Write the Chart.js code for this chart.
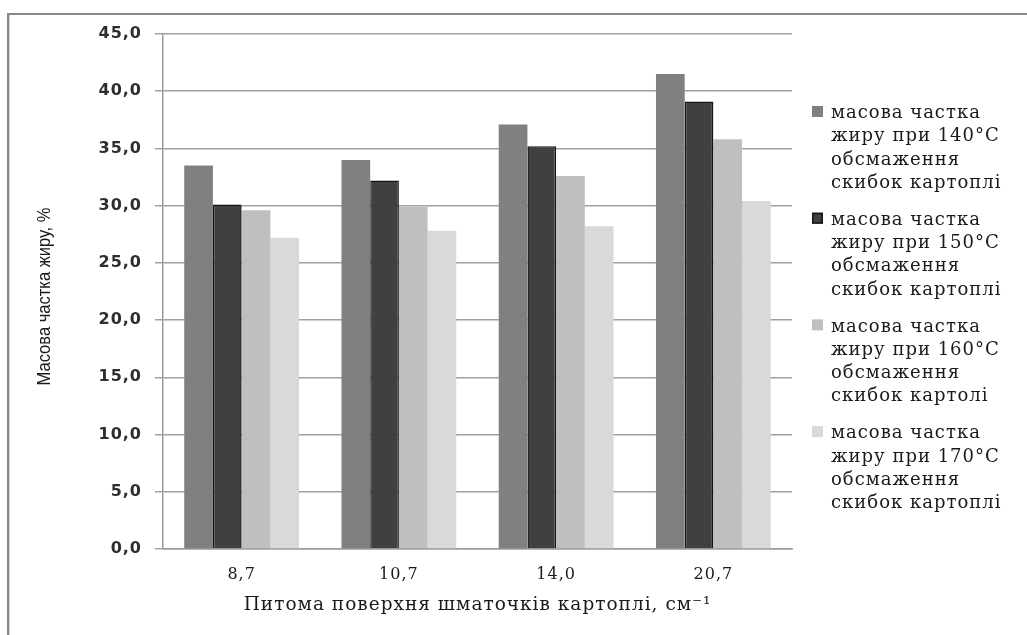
<!DOCTYPE html>
<html>
<head>
<meta charset="utf-8">
<script src="https://cdn.jsdelivr.net/npm/chart.js@4.4.1/dist/chart.umd.min.js"></script>
<style>
  html, body { margin: 0; padding: 0; background: #fff; }
  #wrap { position: relative; width: 1027px; height: 635px; }
</style>
</head>
<body>
<div id="wrap"><canvas id="c" width="1027" height="635"></canvas></div>
<script>
// Specific surface of potato pieces, cm^-1
const categories = ['8,7', '10,7', '14,0', '20,7'];

// Fat mass fraction, % at each frying temperature
const fat140 = [33.5, 34.0, 37.1, 41.5];
const fat150 = [30.1, 32.2, 35.2, 39.1];
const fat160 = [29.6, 29.9, 32.6, 35.8];
const fat170 = [27.2, 27.8, 28.2, 30.4];

const yMin = 0, yMax = 45, yStep = 5;

const legendLines = [
  ['масова частка', 'жиру при 140°C', 'обсмаження', 'скибок картоплі'],
  ['масова частка', 'жиру при 150°C', 'обсмаження', 'скибок картоплі'],
  ['масова частка', 'жиру при 160°C', 'обсмаження', 'скибок картолі'],
  ['масова частка', 'жиру при 170°C', 'обсмаження', 'скибок картоплі']
];

const yTitle = 'Масова частка жиру, %';
const xTitle = 'Питома поверхня шматочків картоплі, см⁻¹';

const fills = ['#808080', '#404040', '#bfbfbf', '#d9d9d9'];
const borders = ['#808080', '#141414', '#bfbfbf', '#d9d9d9'];
const borderWidths = [0, 1.5, 0, 0];

// Page frame along the top and left edges; slightly spaced lettering for all chart text
const framePlugin = {
  id: 'frame',
  beforeDraw(chart) {
    const ctx = chart.ctx;
    ctx.save();
    ctx.fillStyle = '#ffffff';
    ctx.fillRect(0, 0, chart.width, chart.height);
    ctx.fillStyle = '#8a8a8a';
    ctx.fillRect(7, 13, chart.width - 7, 2);
    ctx.fillRect(7, 13, 2, chart.height - 13);
    ctx.fillStyle = '#cfcfcf';
    ctx.fillRect(9, 15, 1, chart.height - 15);
    ctx.restore();
    ctx.letterSpacing = '1px';
  }
};

// Narrow rotated title for the value axis
const yTitlePlugin = {
  id: 'yTitle',
  afterDraw(chart) {
    const ctx = chart.ctx;
    const area = chart.chartArea;
    ctx.save();
    ctx.letterSpacing = '0px';
    ctx.translate(45, (area.top + area.bottom) / 2 + 5);
    ctx.rotate(-Math.PI / 2);
    ctx.scale(0.87, 1);
    ctx.font = '19px "Liberation Sans", Arial, sans-serif';
    ctx.fillStyle = '#1a1a1a';
    ctx.textAlign = 'center';
    ctx.textBaseline = 'middle';
    ctx.fillText(yTitle, 0, 0);
    ctx.restore();
  }
};

// Legend on the right with four-line wrapped labels
const sideLegend = {
  id: 'sideLegend',
  afterDraw(chart) {
    const ctx = chart.ctx;
    ctx.save();
    ctx.letterSpacing = '1px';
    ctx.font = '18px "DejaVu Serif", "Liberation Serif", serif';
    ctx.textBaseline = 'middle';
    ctx.textAlign = 'left';
    const boxX = 812, textX = 831, firstY = 113.5, itemGap = 106.7, lineGap = 23.3, box = 11;
    chart.data.datasets.forEach((ds, i) => {
      const y0 = firstY + i * itemGap;
      ctx.fillStyle = ds.backgroundColor;
      ctx.fillRect(boxX, y0 - 7.5, box, box);
      if (ds.borderWidth) {
        ctx.strokeStyle = ds.borderColor;
        ctx.lineWidth = 1.5;
        ctx.strokeRect(boxX + 0.75, y0 - 7.5 + 0.75, box - 1.5, box - 1.5);
      }
      ctx.fillStyle = '#1a1a1a';
      legendLines[i].forEach((line, j) => {
        ctx.fillText(line, textX, y0 + j * lineGap);
      });
    });
    ctx.restore();
  }
};

const series = [fat140, fat150, fat160, fat170];

new Chart(document.getElementById('c'), {
  type: 'bar',
  data: {
    labels: categories,
    datasets: series.map((values, i) => ({
      label: legendLines[i].join(' '),
      data: values,
      backgroundColor: fills[i],
      borderColor: borders[i],
      borderWidth: borderWidths[i],
      borderSkipped: 'bottom',
      barPercentage: 1.0,
      categoryPercentage: 0.73
    }))
  },
  options: {
    responsive: false,
    devicePixelRatio: 1,
    animation: false,
    layout: { padding: { left: 0, top: 34, right: 235, bottom: 0 } },
    plugins: {
      legend: { display: false },
      tooltip: { enabled: false }
    },
    scales: {
      x: {
        grid: { display: false, drawTicks: false },
        border: { display: true, color: '#9a9a9a', width: 1.5 },
        ticks: {
          color: '#1a1a1a',
          padding: 16,
          font: { family: '"DejaVu Serif", "Liberation Serif", serif', size: 16 }
        },
        title: {
          display: true,
          text: xTitle,
          color: '#1a1a1a',
          padding: { top: 0, bottom: 19 },
          font: { family: '"DejaVu Serif", "Liberation Serif", serif', size: 18.5 }
        },
        afterFit(scale) { scale.height = 86; }
      },
      y: {
        min: yMin,
        max: yMax,
        ticks: {
          stepSize: yStep,
          color: '#2e2e2e',
          padding: 13,
          font: { family: '"DejaVu Sans", Verdana, sans-serif', size: 16, weight: 'bold' },
          callback: (v) => v.toFixed(1).replace('.', ',')
        },
        grid: { color: '#a0a0a0', lineWidth: 1.5, tickLength: 8, drawTicks: true },
        border: { display: true, color: '#9a9a9a', width: 1.5 },
        title: { display: false },
        afterFit(scale) { scale.width = 163; }
      }
    }
  },
  plugins: [framePlugin, yTitlePlugin, sideLegend]
});
</script>
</body>
</html>
